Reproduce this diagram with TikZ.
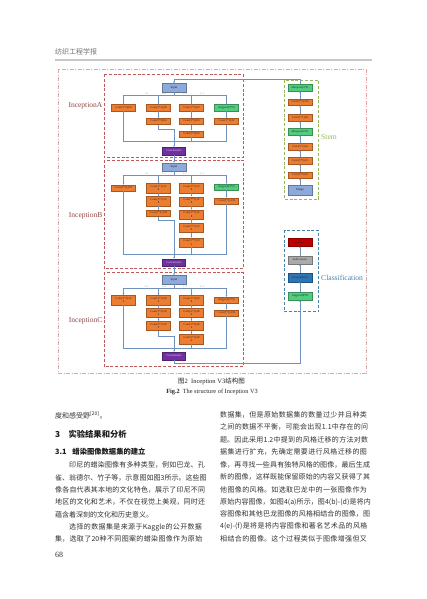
\documentclass[tikz,border=0pt]{standalone}
\usepackage{fontspec}
\setmainfont{Liberation Serif}
\newfontfamily\cjk{Noto Sans CJK SC}
\usetikzlibrary{arrows.meta,positioning,calc}
\XeTeXlinebreaklocale "zh"
\XeTeXlinebreakskip=0pt plus 1pt minus 0.1pt
\definecolor{convorange}{RGB}{237,125,49}
\definecolor{poolgreen}{RGB}{80,205,125}
\definecolor{inblue}{RGB}{142,170,219}
\definecolor{catpurple}{RGB}{112,48,160}
\definecolor{linkblue}{RGB}{110,145,190}
\definecolor{incred}{RGB}{192,90,90}
\definecolor{outpink}{RGB}{228,165,165}
\definecolor{stemgreen}{RGB}{150,185,90}
\definecolor{clsblue}{RGB}{70,130,170}
\definecolor{softred}{RGB}{192,0,0}
\definecolor{fcgray}{RGB}{170,170,170}
\definecolor{dropblue}{RGB}{46,117,182}
\definecolor{bodygray}{RGB}{50,50,50}

\begin{document}
\begin{tikzpicture}[x=1pt, y=-1pt, >={Stealth[length=1.7pt,width=1.5pt]},
  blk/.style={draw=#1!70!black, fill=#1, line width=0.2pt, minimum width=24pt,
    minimum height=6.2pt, inner sep=0.3pt, align=center, text=black!85,
    font=\fontsize{2.9}{3.3}\selectfont},
  conv/.style={blk=convorange},
  convtall/.style={blk=convorange, minimum height=9.4pt},
  gpool/.style={blk=poolgreen},
  inbox/.style={blk=inblue, minimum height=8.4pt, font=\fontsize{3.2}{3.6}\selectfont},
  catbox/.style={blk=catpurple, minimum height=7.7pt, minimum width=23pt,
    text=white!80!catpurple, font=\fontsize{3}{3.4}\selectfont},
  link/.style={draw=linkblue, line width=0.45pt},
  splittxt/.style={font=\fontsize{2.3}{2.6}\selectfont, text=black!50, inner sep=0.4pt, above},
  modframe/.style={draw=incred, line width=0.7pt, dash pattern=on 3pt off 1.8pt},
  modlabel/.style={anchor=east, inner sep=0pt, text=incred!75!black, font=\fontsize{7.5}{9}\selectfont},
  sidelabel/.style={anchor=west, inner sep=0pt, font=\fontsize{7.6}{9}\selectfont},
  bodyline/.style={anchor=west, inner sep=0pt, text width=152pt, text=bodygray,
    font=\cjk\fontsize{7}{12.4}\selectfont},
  fullline/.style={execute at begin node={\parfillskip=0pt\relax}},
  lastline/.style={},
]
\fill[white] (0,0) rectangle (427,599);
\useasboundingbox (0,0) rectangle (427,599);

% running head
\node[anchor=west, inner sep=0pt, text=black!55, font=\cjk\fontsize{7}{8}\selectfont] (head) at (55,52) {纺织工程学报};
\draw[black!22, line width=1.8pt] (55,59.8) -- (372,59.8);

% frames
\draw[outpink, line width=0.6pt, dash pattern=on 4pt off 1.5pt on 1pt off 1.5pt] (58.3,69.3) rectangle (366,373.3);
\draw[modframe] (104,74) rectangle (243,157.3);
\draw[modframe] (104,160) rectangle (243,268.8);
\draw[modframe] (104,272.3) rectangle (243,366.7);
\node[modlabel] (labA) at (102.5,106) {InceptionA};
\node[modlabel] (labB) at (102.5,215.7) {InceptionB};
\node[modlabel] (labC) at (102.5,320.7) {InceptionC};

% Inception A
\node[inbox] (inA) at (174,87.5) {Input};
\foreach \n/\x/\y/\s/\t in {
    a11/123.5/107.7/conv/{Conv(1*1),64},
    a21/158.5/107.7/conv/{Conv(1*1),48},
    a22/158.5/121.3/conv/{Conv(5*5),64},
    a31/191.5/107.7/conv/{Conv(1*1),64},
    a32/191.5/121.3/conv/{Conv(3*3),96},
    a33/191.5/133.7/conv/{Conv(3*3),96},
    a41/226.5/107.7/gpool/{Avgpool(3*3)},
    a42/226.5/121.3/conv/{Conv(1*1),32}}{
  \node[\s] (\n) at (\x,\y) {\t};
}
\node[catbox] (cA) at (174,151) {Concatenate};
\coordinate (sA) at (174,95);
\coordinate (mA) at (174,141.7);
\draw[link] (inA) -- (sA);
\draw[link] (a11 |- sA) -- (a41 |- sA);
\foreach \n in {a11,a21,a31,a41} \draw[link,->] (\n |- sA) -- (\n.north);
\foreach \a/\b in {a21/a22,a31/a32,a32/a33,a41/a42} \draw[link,->] (\a) -- (\b);
\draw[link] (a11.south) -- (a11 |- mA) -- (a42 |- mA) -- (a42.south);
\draw[link] (a33.south) -- (a33 |- mA);
\draw[link] (a22.south) -- ++(0,5) -| (mA);
\draw[link,->] (mA) -- (cA.north);
\foreach \x [count=\i] in {146.5,164,185,202} \node[splittxt] (spA\i) at (\x,95) {1×1};

% Inception B
\node[inbox] (inB) at (174,167) {Input};
\foreach \n/\x/\y/\s/\t in {
    b11/123.5/188/conv/{Conv(1*1),192},
    b21/158.5/188/convtall/{Conv(1*1),12\\8},
    b22/158.5/201/convtall/{Conv(1*7),12\\8},
    b23/158.5/213.3/conv/{Conv(7*1),192},
    b31/191.5/188/convtall/{Conv(1*1),12\\8},
    b32/191.5/201.3/convtall/{Conv(7*1),12\\8},
    b33/191.5/214.5/convtall/{Conv(1*7),12\\8},
    b34/191.5/227.8/convtall/{Conv(7*1),12\\8},
    b35/191.5/242.5/convtall/{Conv(1*7),19\\2},
    b41/226.5/187/gpool/{Avgpool(3*3)},
    b42/226.5/201/conv/{Conv(1*1),192}}{
  \node[\s] (\n) at (\x,\y) {\t};
}
\node[catbox] (cB) at (174,262.5) {Concatenate};
\coordinate (sB) at (174,175);
\coordinate (mB) at (174,254);
\draw[link,->] (cA) -- (inB);
\draw[link] (inB) -- (sB);
\draw[link] (b11 |- sB) -- (b41 |- sB);
\foreach \n in {b11,b21,b31,b41} \draw[link,->] (\n |- sB) -- (\n.north);
\foreach \a/\b in {b21/b22,b22/b23,b31/b32,b32/b33,b33/b34,b34/b35,b41/b42} \draw[link,->] (\a) -- (\b);
\draw[link] (b11.south) -- (b11 |- mB) -- (b42 |- mB) -- (b42.south);
\draw[link] (b35.south) -- (b35 |- mB);
\draw[link] (b23.south) -- ++(0,3.8) -| (mB);
\draw[link,->] (mB) -- (cB.north);
\foreach \x [count=\i] in {146.5,164,185,202} \node[splittxt] (spB\i) at (\x,175) {1×1};

% Inception C
\node[inbox] (inC) at (174,279.5) {Input};
\foreach \n/\x/\y/\s/\t in {
    c11/123.5/300/convtall/{Conv(1*1),32\\0},
    c21/158.5/300/convtall/{Conv(1*1),38\\4},
    c22/158.5/312.8/convtall/{Conv(1*3),38\\4},
    c23/158.5/325.8/convtall/{Conv(3*1),38\\4},
    c31/191.5/300/convtall/{Conv(1*1),44\\8},
    c32/191.5/312.8/convtall/{Conv(3*3),38\\4},
    c33/191.5/325.8/convtall/{Conv(1*3),38\\4},
    c34/191.5/339/convtall/{Conv(3*1),38\\4},
    c41/226.5/300/conv/{Avgpool(3*3)},
    c42/226.5/313/conv/{Conv(1*1),192}}{
  \node[\s] (\n) at (\x,\y) {\t};
}
\node[catbox] (cC) at (174,356) {Concatenate};
\coordinate (sC) at (174,288.3);
\coordinate (mC) at (174,348.3);
\draw[link,->] (cB) -- (inC);
\draw[link] (inC) -- (sC);
\draw[link] (c11 |- sC) -- (c41 |- sC);
\foreach \n in {c11,c21,c31,c41} \draw[link,->] (\n |- sC) -- (\n.north);
\foreach \a/\b in {c21/c22,c22/c23,c31/c32,c32/c33,c33/c34,c41/c42} \draw[link,->] (\a) -- (\b);
\draw[link] (c11.south) -- (c11 |- mC) -- (c42 |- mC) -- (c42.south);
\draw[link] (c34.south) -- (c34 |- mC);
\draw[link] (c23.south) -- ++(0,6) -| (mC);
\draw[link,->] (mC) -- (cC.north);
\foreach \x [count=\i] in {146.5,164,185,202} \node[splittxt] (spC\i) at (\x,288.3) {1×1};

% Stem
\draw[stemgreen, line width=0.7pt, dash pattern=on 3pt off 1.8pt] (284,80) rectangle (318.3,199.3);
\node[sidelabel, text=stemgreen] (labStem) at (321,136.7) {Stem};
\foreach \n/\y/\s/\t in {
    s1/87.7/gpool/{Maxpool(3*3)},
    s2/102.2/conv/{Conv(3*3),192},
    s3/117.7/conv/{Conv(1*1),80},
    s4/131.7/gpool/{Maxpool(3*3)},
    s5/146.7/conv/{Conv(3*3),64},
    s6/160.7/conv/{Conv(3*3),32},
    s7/175/conv/{Conv(3*3),32}}{
  \node[\s, minimum width=23.4pt, minimum height=6.7pt] (\n) at (300,\y) {\t};
}
\node[blk=inblue, minimum width=23.4pt, minimum height=10pt, font=\fontsize{3.2}{3.6}\selectfont] (s8) at (300,190) {Image};
\foreach \a/\b in {s8/s7,s7/s6,s6/s5,s5/s4,s4/s3,s3/s2,s2/s1} \draw[link,->] (\a) -- (\b);
\draw[link,->] (s1.north) -- ++(0,-5) -| (inA.north);

% Classification
\draw[clsblue, line width=0.7pt, dash pattern=on 3pt off 1.8pt] (284,230) rectangle (318.3,311.7);
\node[sidelabel, text=clsblue] (labCls) at (321,278.3) {Classification};
\foreach \n/\y/\s/\t in {
    k1/296/poolgreen/{Avgpool(8*8)},
    k2/277.5/dropblue/{Dropout(0.2)},
    k3/260/fcgray/{FullConnect},
    k4/242/softred/{Softmax}}{
  \node[blk=\s, minimum width=23.4pt, minimum height=8.3pt] (\n) at (300,\y) {\t};
}
\foreach \a/\b in {k1/k2,k2/k3,k3/k4} \draw[link,->] (\a) -- (\b);
\draw[link,->] (cC.south) -- ++(0,2.8) -| (k1.south);

% caption
\node[inner sep=0pt, text=black!85, font=\fontsize{6.5}{7.5}\selectfont] (cap1) at (211.5,381.7) {{\cjk 图}2\ \ Inception V3{\cjk 结构图}};
\node[inner sep=0pt, text=black!85, font=\fontsize{6.3}{7.5}\selectfont] (cap2) at (212,391.7) {\textbf{Fig.2}\ \ The structure of Inception V3};

% body text
\node[anchor=west, inner sep=0pt, text=black!90, font=\cjk\bfseries\fontsize{8.3}{10}\selectfont] (sec3) at (55,433.8) {3\hspace{1em}实验结果和分析};
\node[anchor=west, inner sep=0pt, text=black!90, font=\cjk\bfseries\fontsize{7.3}{9}\selectfont] (sec31) at (55,452) {3.1\hspace{0.8em}蜡染图像数据集的建立};
\foreach \yy/\pf/\txt [count=\i] in {
    415/lastline/{度和感受野\textsuperscript{[20]}。},
    465/fullline/{\hspace*{2em}印尼的蜡染图像有多种类型，例如巴龙、孔},
    477.4/fullline/{雀、翁德尔、竹子等，示意图如图3所示。这些图},
    489.8/fullline/{像各自代表其本地的文化特色，展示了印尼不同},
    502.2/fullline/{地区的文化和艺术，不仅在视觉上美观，同时还},
    514.6/lastline/{蕴含着深刻的文化和历史意义。},
    527/fullline/{\hspace*{2em}选择的数据集是来源于Kaggle的公开数据},
    539.4/fullline/{集，选取了20种不同图案的蜡染图像作为原始}}{
  \node[bodyline, \pf] (left\i) at (55,\yy) {\txt};
}
\foreach \yy/\txt [count=\i] in {
    415/{数据集，但是原始数据集的数量过少并且种类},
    427.4/{之间的数据不平衡，可能会出现1.1中存在的问},
    439.8/{题。因此采用1.2中提到的风格迁移的方法对数},
    452.2/{据集进行扩充，先确定需要进行风格迁移的图},
    464.6/{像，再寻找一些具有独特风格的图像，最后生成},
    477/{新的图像，这样既能保留原始的内容又获得了其},
    489.4/{他图像的风格。如选取巴龙中的一张图像作为},
    501.8/{原始内容图像，如图4(a)所示，图4(b)-(d)是将内},
    514.2/{容图像和其他巴龙图像的风格相结合的图像，图},
    526.6/{4(e)-(f)是将是将内容图像和著名艺术品的风格},
    539/{相结合的图像。这个过程类似于图像增强但又}}{
  \node[bodyline, fullline] (right\i) at (220,\yy) {\txt};
}
\node[anchor=west, inner sep=0pt, text=bodygray, font=\fontsize{8}{9}\selectfont] (pgno) at (55,555) {68};
\end{tikzpicture}
\end{document}
